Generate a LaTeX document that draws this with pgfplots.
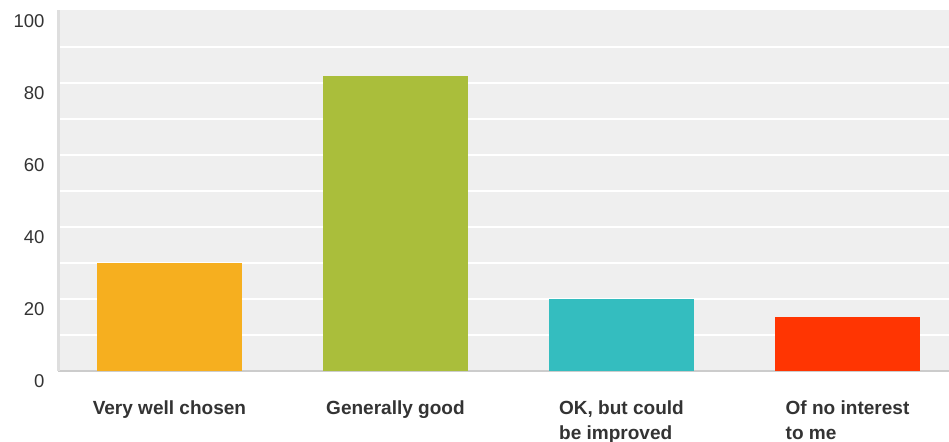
\documentclass[border=0pt]{standalone}
\usepackage{fontspec}
\setmainfont{Liberation Sans}
\usepackage{pgfplots}
\pgfplotsset{compat=1.18}
\definecolor{bgc}{HTML}{EFEFEF}
\definecolor{txt}{HTML}{333333}
\definecolor{c1}{HTML}{F6AF1F}
\definecolor{c2}{HTML}{AABE3B}
\definecolor{c3}{HTML}{34BDBF}
\definecolor{c4}{HTML}{FF3502}
\begin{document}
\begin{tikzpicture}[x=1bp,y=1bp]
\path[use as bounding box] (0,0) rectangle (949,442);
\begin{axis}[
  at={(58bp,71bp)}, anchor=south west,
  scale only axis, width=891bp, height=361bp,
  xmin=-0.493, xmax=3.449, ymin=0, ymax=100.3,
  axis background/.style={fill=bgc},
  axis x line*=bottom, axis y line*=left,
  axis line style={-},
  x axis line style={draw=black!20, line width=2bp},
  y axis line style={draw=black!13, line width=3bp},
  major tick length=0, minor tick length=0,
  xtick={0,1,2,3},
  xticklabels={Very well chosen, Generally good, {OK, but could\\be improved}, {Of no interest\\to me}},
  xticklabel style={align=left, anchor=north, yshift=-26bp, font=\fontsize{19.1}{25}\selectfont\bfseries, text=txt},
  ytick={0,20,40,60,80,100},
  minor ytick={10,20,...,90},
  yminorgrids,
  minor grid style={draw=white, line width=2bp},
  yticklabel style={font=\fontsize{18.6}{22}\selectfont, text=txt, yshift=-10bp, xshift=-10bp},
  /pgf/number format/assume math mode=true,
]
\addplot[ybar, bar width=145bp, fill=c1, draw=none] coordinates {(0,30)};
\addplot[ybar, bar width=145bp, fill=c2, draw=none] coordinates {(1,82)};
\addplot[ybar, bar width=145bp, fill=c3, draw=none] coordinates {(2,20)};
\addplot[ybar, bar width=145bp, fill=c4, draw=none] coordinates {(3,15)};
\end{axis}
\end{tikzpicture}
\end{document}
